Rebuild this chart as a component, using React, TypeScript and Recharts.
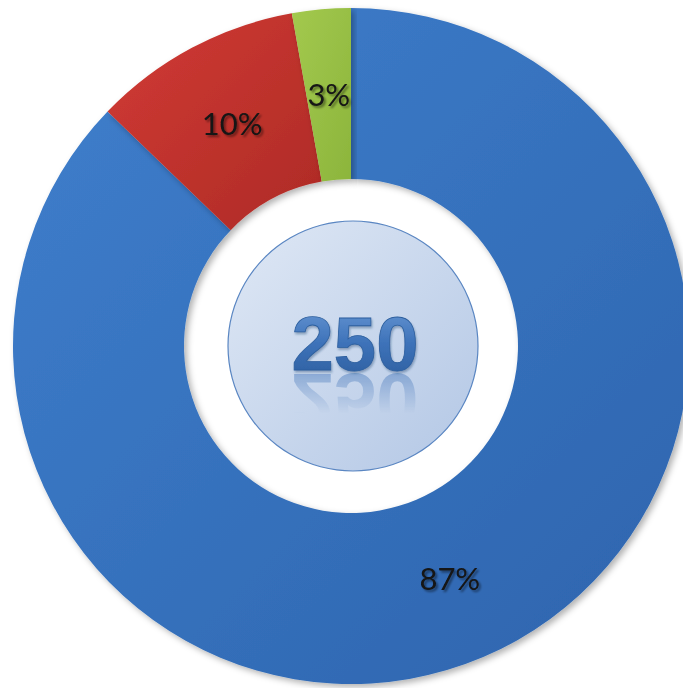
import React from 'react';
import { PieChart, Pie, Cell } from 'recharts';

const categories = ['Group A', 'Group B', 'Group C'];
const counts = [218, 25, 7];
const colors = ['url(#gradBlue)', 'url(#gradRed)', 'url(#gradGreen)'];
const totalLabel = '250';

const chartData = categories.map((name, i) => ({ name, value: counts[i], color: colors[i] }));
const centerData = [{ name: 'total', value: 1 }];

const RADIAN = Math.PI / 180;

const renderSliceLabel = (props: any) => {
  const { cx, cy, midAngle, innerRadius, outerRadius, percent } = props;
  const r = (innerRadius + outerRadius) / 2;
  const x = cx + r * Math.cos(-midAngle * RADIAN);
  const y = cy + r * Math.sin(-midAngle * RADIAN);
  return (
    <text
      x={x}
      y={y}
      textAnchor="middle"
      dominantBaseline="central"
      fill="#141414"
      fontSize={31}
      fontFamily="Lato, 'DejaVu Sans', sans-serif"
      filter="url(#textShadow)"
    >
      {`${Math.round((percent || 0) * 100)}%`}
    </text>
  );
};

const renderCenterValue = (props: any) => {
  const { cx, cy } = props;
  const baseY = cy + 24;
  return (
    <g>
      <g mask="url(#reflectMask)">
        <text
          x={cx + 2}
          y={baseY}
          textAnchor="middle"
          fontSize={76}
          fontWeight="bold"
          fontFamily="'Liberation Sans', Arial, sans-serif"
          fill="#3e73b8"
          opacity={0.5}
          transform={`translate(0 ${2 * baseY + 4}) scale(1 -1)`}
        >
          {totalLabel}
        </text>
      </g>
      <text
        x={cx + 2}
        y={baseY}
        textAnchor="middle"
        fontSize={76}
        fontWeight="bold"
        fontFamily="'Liberation Sans', Arial, sans-serif"
        fill="url(#gradText)"
        stroke="#2d5f9e"
        strokeWidth={0.8}
        filter="url(#numShadow)"
      >
        {totalLabel}
      </text>
    </g>
  );
};

export default function App() {
  return (
    <div style={{ position: 'absolute', left: 0, top: 0, width: 683, height: 688, background: '#ffffff' }}>
      <PieChart width={683} height={688} margin={{ top: 0, right: 0, bottom: 0, left: 0 }}>
        <defs>
          <linearGradient id="gradBlue" x1="0" y1="0" x2="1" y2="1">
            <stop offset="0%" stopColor="#3f7fcd" />
            <stop offset="100%" stopColor="#2d64ad" />
          </linearGradient>
          <linearGradient id="gradRed" x1="0" y1="0" x2="1" y2="1">
            <stop offset="0%" stopColor="#d23b34" />
            <stop offset="100%" stopColor="#ad2a26" />
          </linearGradient>
          <linearGradient id="gradGreen" x1="0" y1="0" x2="1" y2="1">
            <stop offset="0%" stopColor="#a3c94e" />
            <stop offset="100%" stopColor="#8cb53c" />
          </linearGradient>
          <linearGradient id="gradCenter" x1="0" y1="0" x2="1" y2="1">
            <stop offset="0%" stopColor="#dfe8f5" />
            <stop offset="100%" stopColor="#b3c7e5" />
          </linearGradient>
          <linearGradient id="gradText" x1="0" y1="0" x2="0" y2="1">
            <stop offset="0%" stopColor="#6b9ad6" />
            <stop offset="50%" stopColor="#3d72b9" />
            <stop offset="100%" stopColor="#2c5c9c" />
          </linearGradient>
          <linearGradient id="reflectFade" x1="0" y1="0" x2="0" y2="1">
            <stop offset="0%" stopColor="#ffffff" stopOpacity={0.9} />
            <stop offset="100%" stopColor="#ffffff" stopOpacity={0} />
          </linearGradient>
          <mask id="reflectMask" maskUnits="userSpaceOnUse" x="0" y="0" width="683" height="688">
            <rect x={250} y={373} width={200} height={40} fill="url(#reflectFade)" />
          </mask>
          <filter id="textShadow" x="-20%" y="-20%" width="150%" height="160%">
            <feDropShadow dx={2} dy={2} stdDeviation={1.2} floodColor="#000000" floodOpacity={0.45} />
          </filter>
          <filter id="numShadow" x="-20%" y="-20%" width="150%" height="160%">
            <feDropShadow dx={1} dy={2} stdDeviation={1} floodColor="#1d3d6a" floodOpacity={0.4} />
          </filter>
          <filter id="ringShadow" x="-10%" y="-10%" width="120%" height="120%">
            <feDropShadow dx={3} dy={3} stdDeviation={3} floodColor="#000000" floodOpacity={0.3} />
          </filter>
        </defs>
        <Pie
          data={chartData}
          dataKey="value"
          nameKey="name"
          cx={351}
          cy={346}
          innerRadius={167}
          outerRadius={338}
          startAngle={90}
          endAngle={-270}
          stroke="none"
          labelLine={false}
          label={renderSliceLabel}
          isAnimationActive={false}
          style={{ filter: 'url(#ringShadow)' }}
        >
          {chartData.map((entry, index) => (
            <Cell key={`cell-${index}`} fill={entry.color} />
          ))}
        </Pie>
        <Pie
          data={centerData}
          dataKey="value"
          cx={353}
          cy={346}
          innerRadius={0}
          outerRadius={125}
          startAngle={90}
          endAngle={-270}
          fill="url(#gradCenter)"
          stroke="none"
          labelLine={false}
          label={renderCenterValue}
          isAnimationActive={false}
        />
        <Pie
          data={centerData}
          dataKey="value"
          cx={353}
          cy={346}
          innerRadius={124.4}
          outerRadius={125.6}
          startAngle={90}
          endAngle={-270}
          fill="#5a86c2"
          stroke="none"
          isAnimationActive={false}
        />
      </PieChart>
    </div>
  );
}
